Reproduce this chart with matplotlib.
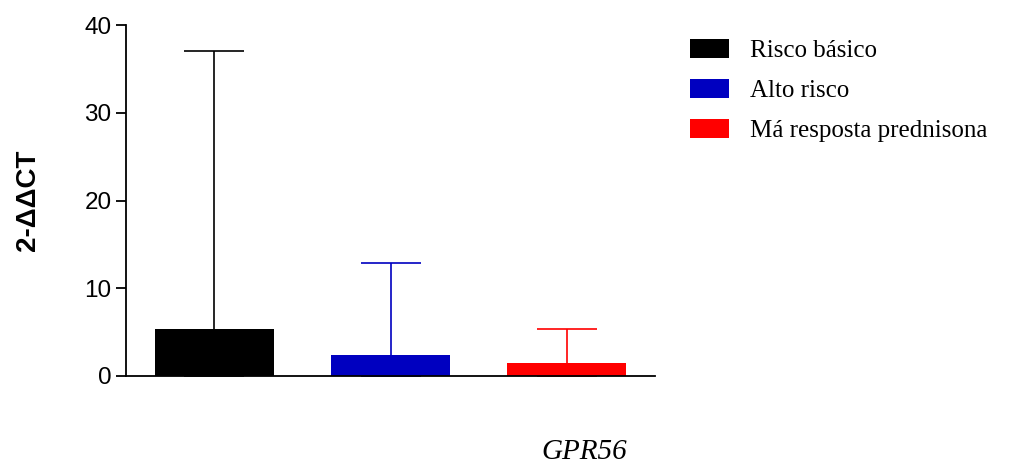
import numpy as np
import matplotlib.pyplot as plt
from matplotlib.patches import Patch

# Dados (médias e erro superior)
grupos = ["Risco básico", "Alto risco", "Má resposta prednisona"]
medias = [5.35, 2.4, 1.5]
erro_sup = [31.7, 10.5, 3.85]
cores = ["#000000", "#0000C0", "#FF0000"]
gene = "GPR56"

fig = plt.figure(figsize=(10.21, 4.66), dpi=100)
ax = fig.add_axes([126/1021, 1 - 376/466, (655 - 126)/1021, (376 - 25)/466])

x = np.arange(len(grupos))
ax.bar(x, medias, width=0.676, color=cores, zorder=3)
# barra de erro só para cima (linha começa no zero, escondida pela barra)
for xi, m, e, c in zip(x, medias, erro_sup, cores):
    ax.errorbar(xi, 0, yerr=[[0], [m + e]], fmt='none', ecolor=c,
                elinewidth=1.2, capsize=21.6, capthick=1.2, zorder=2)

ax.set_xlim(-0.5, 2.5)
ax.set_ylim(0, 40)
ax.set_yticks([0, 10, 20, 30, 40])
ax.set_xticks([])
for s in ["top", "right"]:
    ax.spines[s].set_visible(False)
for s in ["left", "bottom"]:
    ax.spines[s].set_linewidth(1.3)
    ax.spines[s].set_zorder(4)
ax.tick_params(axis='y', direction='out', length=7, width=1.3, labelsize=17.5)
for lbl in ax.get_yticklabels():
    lbl.set_fontfamily("Liberation Sans")

ax.set_ylabel("2-ΔΔCT", fontsize=20, fontweight='bold',
              fontfamily="Liberation Sans", labelpad=31)

fig.text(584/1021, 1 - 452/466, gene, fontsize=21, style='italic',
         fontfamily="Liberation Serif", ha='center', va='center')

handles = [Patch(facecolor=c, edgecolor='none') for c in cores]
fig.legend(handles, grupos, loc='upper left',
           bbox_to_anchor=(690/1021, 1 - 39/466), frameon=False,
           prop={'family': 'Liberation Serif', 'size': 18},
           handlelength=1.56, handleheight=0.8, handletextpad=0.84,
           labelspacing=0.66, borderpad=0, borderaxespad=0)

fig.savefig("out.png", dpi=100)
